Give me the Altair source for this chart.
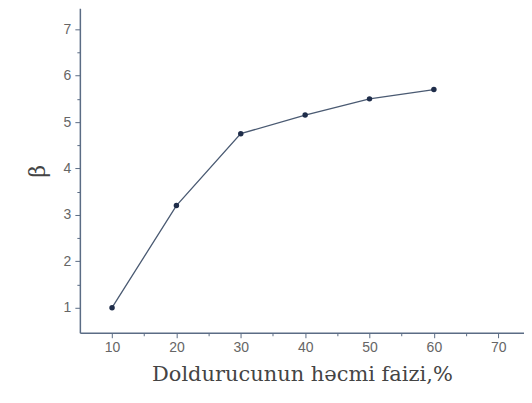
import altair as alt
import pandas as pd

x_vals = [10, 20, 30, 40, 50, 60]
beta_vals = [1.0, 3.2, 4.75, 5.15, 5.5, 5.7]

x_ticks = [10, 15, 20, 25, 30, 35, 40, 45, 50, 55, 60, 65, 70]
y_ticks = [1, 1.5, 2, 2.5, 3, 3.5, 4, 4.5, 5, 5.5, 6, 6.5, 7]

df = pd.DataFrame({"x": x_vals, "beta": beta_vals})

axis_color = "#5b6c85"

x_enc = alt.X(
    "x:Q",
    scale=alt.Scale(domain=[5, 74], nice=False, zero=False),
    axis=alt.Axis(
        title="Doldurucunun həcmi faizi,%",
        values=x_ticks,
        labelExpr="datum.value % 10 === 0 ? format(datum.value, 'd') : ''",
        tickSize={"condition": {"test": "datum.value % 10 === 0", "value": 5}, "value": 3},
        grid=False,
        domainColor=axis_color,
        domainWidth=1.5,
        tickColor=axis_color,
        labelColor="#666666",
        labelFont="Liberation Sans",
        labelFontSize=14,
        labelPadding=3,
        titleFont="DejaVu Serif",
        titleFontSize=21,
        titleFontWeight="normal",
        titleColor="#444444",
        titlePadding=9,
    ),
)
y_enc = alt.Y(
    "beta:Q",
    scale=alt.Scale(domain=[0.46, 7.45], nice=False, zero=False),
    axis=alt.Axis(
        title="β",
        values=y_ticks,
        labelExpr="datum.value % 1 === 0 ? format(datum.value, 'd') : ''",
        tickSize={"condition": {"test": "datum.value % 1 === 0", "value": 5}, "value": 3},
        grid=False,
        domainColor=axis_color,
        domainWidth=1.5,
        tickColor=axis_color,
        labelColor="#666666",
        labelFont="Liberation Sans",
        labelFontSize=14,
        labelPadding=4,
        titleFont="DejaVu Serif",
        titleFontSize=22,
        titleFontWeight="normal",
        titleColor="#444444",
        titlePadding=14,
    ),
)

base = alt.Chart(df).encode(x=x_enc, y=y_enc)
line = base.mark_line(color="#4a5a72", strokeWidth=1.3)
pts = base.mark_point(filled=True, size=30, color="#1f2d4a", opacity=1)

chart = (
    alt.layer(line, pts)
    .properties(
        width=445,
        height=325,
        autosize=alt.AutoSizeParams(type="none"),
        padding={"left": 72, "top": 0, "right": 0, "bottom": 60},
        background="white",
    )
    .configure_view(stroke=None)
)

chart.save("out.html", embed_options={"renderer": "svg", "actions": False})
